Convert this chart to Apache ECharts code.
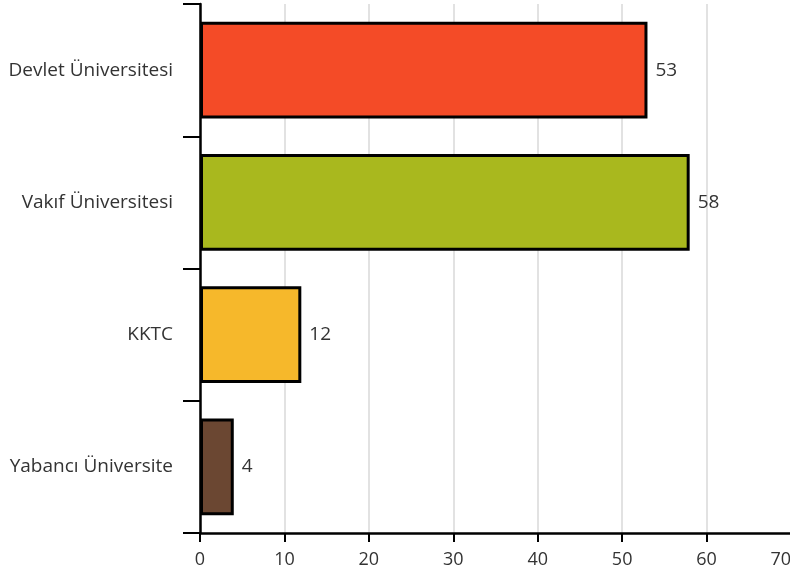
<!DOCTYPE html>
<html>
<head>
<meta charset="utf-8">
<script src="https://cdn.jsdelivr.net/npm/echarts@6/dist/echarts.min.js"></script>
<style>
html,body{margin:0;padding:0;background:#fff;}
#chart{width:790px;height:574px;}
</style>
</head>
<body>
<div id="chart"></div>
<script>
const categories = ['Devlet Üniversitesi', 'Vakıf Üniversitesi', 'KKTC', 'Yabancı Üniversite'];
const values = [53, 58, 12, 4];
const barColors = ['#F44B27', '#A9B81E', '#F6B82B', '#6B4732'];
const xMin = 0, xMax = 70, xStep = 10;

const chart = echarts.init(document.getElementById('chart'), null, {renderer: 'canvas'});
chart.setOption({
  animation: false,
  backgroundColor: '#ffffff',
  textStyle: {fontFamily: 'Open Sans'},
  grid: {left: 200, width: 591, top: 4, bottom: 41, containLabel: false, outerBoundsMode: 'none'},
  xAxis: {
    type: 'value',
    min: xMin, max: xMax, interval: xStep,
    axisLine: {show: true, lineStyle: {color: '#000', width: 2.5}},
    axisTick: {show: true, length: 9, lineStyle: {color: '#000', width: 2}},
    axisLabel: {color: '#333', fontSize: 18, margin: 18, fontFamily: 'Open Sans', alignMaxLabel: 'right'},
    splitLine: {show: true, lineStyle: {color: '#d9d9d9', width: 1.5}}
  },
  yAxis: {
    type: 'category',
    data: categories,
    inverse: true,
    axisLine: {show: true, lineStyle: {color: '#000', width: 2.5}},
    axisTick: {show: true, length: 17, lineStyle: {color: '#000', width: 2}},
    axisLabel: {color: '#333', fontSize: 19, margin: 27, fontFamily: 'Open Sans'},
    splitLine: {show: false}
  },
  series: [{
    type: 'bar',
    data: values.map((v, i) => ({value: v, itemStyle: {color: barColors[i]}})),
    barCategoryGap: '27%',
    itemStyle: {borderColor: '#000', borderWidth: 3},
    label: {show: true, position: 'right', distance: 8, color: '#333', fontSize: 19, fontFamily: 'Open Sans'}
  }]
});
</script>
</body>
</html>
